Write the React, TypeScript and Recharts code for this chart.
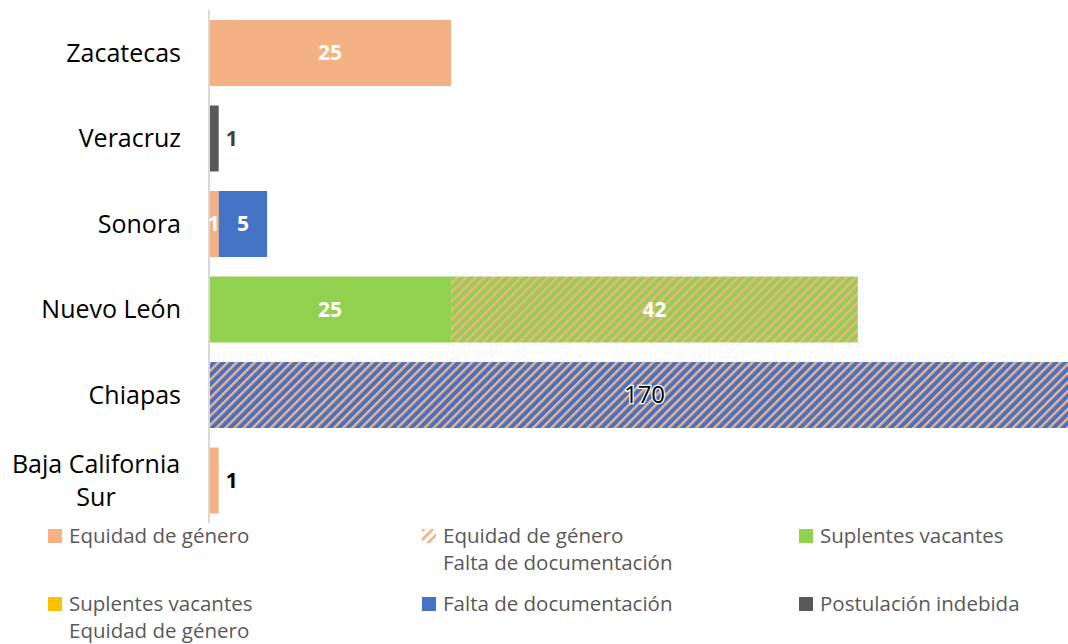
import React from 'react';
import { BarChart, Bar, XAxis, YAxis, LabelList } from 'recharts';

const states = ['Zacatecas', 'Veracruz', 'Sonora', 'Nuevo León', 'Chiapas', 'Baja California Sur'];
const equidadGenero = [25, null, 1, null, null, 1];
const equidadFalta = [null, null, null, null, 170, null];
const suplentesVacantes = [null, null, null, 25, null, null];
const suplentesEquidad = [null, null, null, 42, null, null];
const faltaDocumentacion = [null, null, 5, null, null, null];
const postulacionIndebida = [null, 1, null, null, null, null];

const wrappedNames: Record<string, string[]> = {
  'Baja California Sur': ['Baja California', 'Sur'],
};
// categories whose label sits outside the bar
const outsideLabelStates = ['Baja California Sur', 'Veracruz'];

const legendItems = [
  { lines: ['Equidad de género'], swatch: '#F4B183' },
  { lines: ['Equidad de género', 'Falta de documentación'], swatch: 'hatch' },
  { lines: ['Suplentes vacantes'], swatch: '#92D050' },
  { lines: ['Suplentes vacantes', 'Equidad de género'], swatch: '#FFC000' },
  { lines: ['Falta de documentación'], swatch: '#4472C4' },
  { lines: ['Postulación indebida'], swatch: '#595959' },
];

const data = states.map((name, i) => ({
  name,
  equidad: equidadGenero[i],
  equidadFalta: equidadFalta[i],
  suplentes: suplentesVacantes[i],
  suplentesEquidad: suplentesEquidad[i],
  falta: faltaDocumentacion[i],
  postulacion: postulacionIndebida[i],
}));

const FONT = '"Open Sans", sans-serif';
const PLOT_RIGHT = 1068;

function CategoryTick({ y, payload }: any) {
  const lines = wrappedNames[payload.value];
  if (lines) {
    return (
      <text x={96} y={y} textAnchor="middle" fontSize={25} fill="#000" fontFamily={FONT}>
        <tspan x={96} dy={-7}>{lines[0]}</tspan>
        <tspan x={96} dy={33}>{lines[1]}</tspan>
      </text>
    );
  }
  return (
    <text x={181} y={y} dy={9} textAnchor="end" fontSize={25} fill="#000" fontFamily={FONT}>
      {payload.value}
    </text>
  );
}

// value comes as "out:1" for labels drawn to the right of the bar
const accessor = (key: string) => (entry: any, index: number) => {
  const row = entry.payload ?? data[index];
  const val = row ? row[key] : null;
  if (val == null) return null;
  return outsideLabelStates.includes(row.name) ? `out:${val}` : `${val}`;
};

const makeLabel = (outsideColor: string, halo = false) => (props: any) => {
  const { x, y, width, height, value } = props;
  if (value == null || value === '') return null;
  const cy = y + height / 2;
  const s = String(value);
  if (s.startsWith('out:')) {
    return (
      <text x={x + width + 7} y={cy} dy={7} fontSize={21} fontWeight="bold" fill={outsideColor} fontFamily={FONT}>
        {s.slice(4)}
      </text>
    );
  }
  const right = Math.min(x + width, PLOT_RIGHT);
  const cx = (x + right) / 2;
  if (halo) {
    return (
      <text x={cx + 6} y={cy} dy={8} textAnchor="middle" fontSize={24} fill="#000"
        stroke="#fff" strokeWidth={2.5} paintOrder="stroke" fontFamily={FONT}>
        {s}
      </text>
    );
  }
  return (
    <text x={cx} y={cy} dy={7} textAnchor="middle" fontSize={21} fontWeight="bold" fill="#fff" fontFamily={FONT}>
      {s}
    </text>
  );
};

function Swatch({ kind }: { kind: string }) {
  if (kind === 'hatch') {
    return (
      <svg width={14} height={14} style={{ position: 'absolute', left: 0, top: 7 }}>
        <rect width={14} height={14} fill="url(#legendHatch)" />
      </svg>
    );
  }
  return <span style={{ position: 'absolute', left: 0, top: 7, width: 14, height: 14, background: kind }} />;
}

export default function App() {
  const colX = [48, 422, 799];
  const rowY = [522, 590];
  return (
    <div style={{ position: 'absolute', left: 0, top: 0, width: 1068, height: 644, background: '#fff', fontFamily: FONT, overflow: 'hidden' }}>
      <svg width={0} height={0} style={{ position: 'absolute' }}>
        <defs>
          <pattern id="legendHatch" patternUnits="userSpaceOnUse" width={6.4} height={6.4} patternTransform="rotate(45)">
            <rect width={6.4} height={6.4} fill="#fff" />
            <rect width={2.6} height={6.4} fill="#F4B183" />
          </pattern>
        </defs>
      </svg>
      <BarChart width={1068} height={530} data={data} layout="vertical" margin={{ top: 10, right: 0, bottom: 7, left: 0 }} barSize={66}>
        <defs>
          <pattern id="hatchBlue" patternUnits="userSpaceOnUse" width={6.4} height={6.4} patternTransform="rotate(45)">
            <rect width={6.4} height={6.4} fill="#4472C4" />
            <rect width={2.4} height={6.4} fill="#F4B183" />
          </pattern>
          <pattern id="hatchGreen" patternUnits="userSpaceOnUse" width={6.4} height={6.4} patternTransform="rotate(45)">
            <rect width={6.4} height={6.4} fill="#92D050" />
            <rect width={2.4} height={6.4} fill="#F4B183" />
          </pattern>
        </defs>
        <XAxis type="number" hide domain={[0, 88.7]} allowDataOverflow />
        <YAxis type="category" dataKey="name" width={209} axisLine={{ stroke: '#D9D9D9', strokeWidth: 2 }}
          tickLine={false} tick={<CategoryTick />} interval={0} />
        <Bar dataKey="equidad" stackId="a" fill="#F4B183" isAnimationActive={false}>
          <LabelList valueAccessor={accessor('equidad')} content={makeLabel('#000')} />
        </Bar>
        <Bar dataKey="equidadFalta" stackId="a" fill="url(#hatchBlue)" isAnimationActive={false}>
          <LabelList valueAccessor={accessor('equidadFalta')} content={makeLabel('#000', true)} />
        </Bar>
        <Bar dataKey="suplentes" stackId="a" fill="#92D050" isAnimationActive={false}>
          <LabelList valueAccessor={accessor('suplentes')} content={makeLabel('#000')} />
        </Bar>
        <Bar dataKey="suplentesEquidad" stackId="a" fill="url(#hatchGreen)" isAnimationActive={false}>
          <LabelList valueAccessor={accessor('suplentesEquidad')} content={makeLabel('#000')} />
        </Bar>
        <Bar dataKey="falta" stackId="a" fill="#4472C4" isAnimationActive={false}>
          <LabelList valueAccessor={accessor('falta')} content={makeLabel('#000')} />
        </Bar>
        <Bar dataKey="postulacion" stackId="a" fill="#595959" isAnimationActive={false}>
          <LabelList valueAccessor={accessor('postulacion')} content={makeLabel('#404040')} />
        </Bar>
      </BarChart>
      {legendItems.map((item, i) => (
        <div key={i} style={{ position: 'absolute', left: colX[i % 3], top: rowY[Math.floor(i / 3)], paddingLeft: 21, fontSize: 20.5, lineHeight: '27px', color: '#595959', whiteSpace: 'nowrap' }}>
          <Swatch kind={item.swatch} />
          {item.lines.map((l, j) => <div key={j}>{l}</div>)}
        </div>
      ))}
    </div>
  );
}
